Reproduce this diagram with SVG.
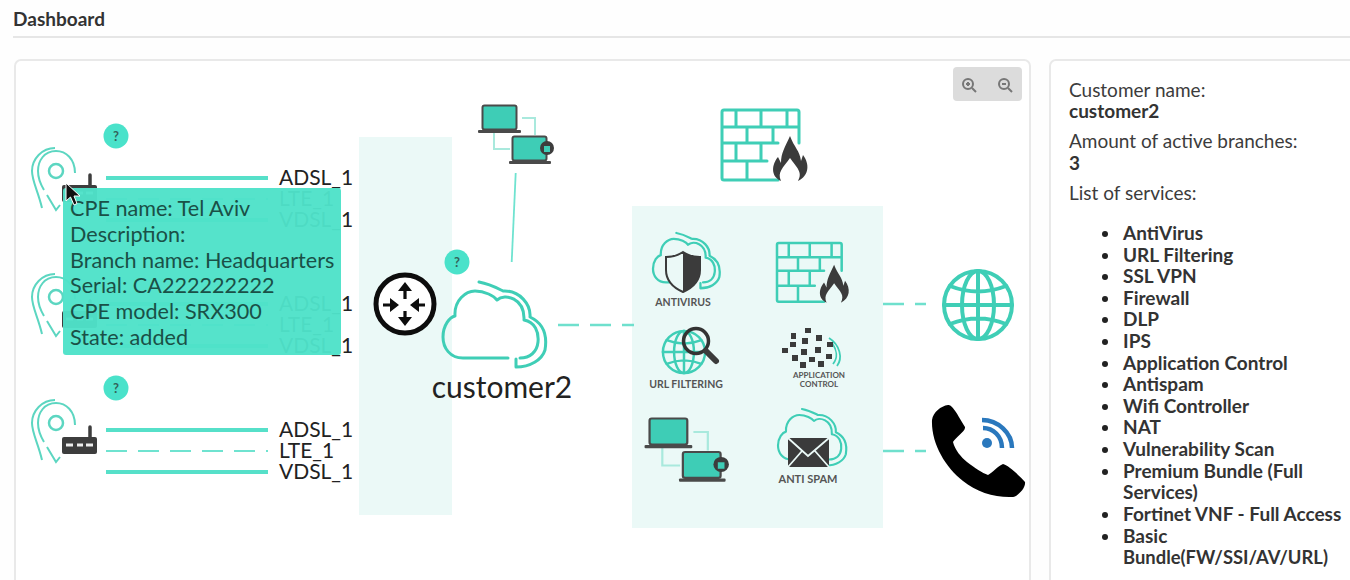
<svg xmlns="http://www.w3.org/2000/svg" xmlns:xlink="http://www.w3.org/1999/xlink" width="1350" height="580" viewBox="0 0 1350 580">
<style>
text{font-family:Lato,"Open Sans","Liberation Sans",sans-serif}
.panel{fill:#fff;stroke:#e9e9e9;stroke-width:2}
.zone{fill:#ebf9f7}
.solid{stroke:#56e0c9;stroke-width:3.8;fill:none}
.thin{stroke:#6fe3d0;stroke-width:1.800;fill:none}
.dash{stroke:#6fe0cd;stroke-width:2.4;fill:none;stroke-dasharray:21 11}
.lbl{font-size:21px;fill:#222}
.tip{font-size:21.600px;fill:#1a5047}
.info{font-size:19px;fill:#3c3c3c}
.infob{font-size:19px;fill:#333;font-weight:700}
.svc{font-size:19px;fill:#333;font-weight:700}
.cap{font-weight:700;fill:#555;text-anchor:middle}
.q{font-size:13px;font-weight:700;fill:#33635a;text-anchor:middle}
.badge{fill:#4ae2ca}
.tl{fill:none;stroke:#3fceb6;stroke-linejoin:round;stroke-linecap:round}
.dark{fill:#3b3b3b}
</style>
<defs>
<g id="cloud" class="tl">
<path d="M508,358H463C450,358 443,348 443,337C443,325 450,317 455,316C454,300 466,291 475,291C485,291 494,296 497,300C505,293 525,298 524,320C535,322 539,332 538,342C537,352 530,358 520,358"/>
<path d="M479,282C490,284 497,288 503,291C520,290 531,305 530,317C545,324 547,338 545,350C542,360 530,367 516,367V359"/>
</g>
<g id="firewall">
<path class="tl" stroke-width="3" d="M778,180H724Q722,180 722,178V112Q722,110 724,110H797Q799,110 799,112V143M722,127H799M722,143H778M722,161H767M736,110V127M761,110V127M787,110V127M747,127V143M773,127V143M736,143V161M761,143V161M747,161V180"/>
<path class="dark" d="M790,136C785,147 781,153 781,163L778,157C772,164 770,176 781,181C777,172 783,168 790,158C797,168 803,172 798,181C809,176 810,164 803,155L801,161C800,151 794,147 790,136Z"/>
</g>
<g id="globe" class="tl">
<circle r="34"/><ellipse rx="16" ry="34"/><path d="M0,-34V34M-34,0H34M-28,-19Q0,-8 28,-19M-28,19Q0,8 28,19"/>
</g>
<g id="laptops">
<path d="M522,118H535V135M494,132V149H510" fill="none" stroke="#a9e9dd" stroke-width="2"/>
<rect x="482.500" y="105.500" width="34" height="24" rx="2" fill="#3ecdb6" stroke="#4a4a4a" stroke-width="2"/>
<rect x="478" y="130" width="43" height="3" rx="1" fill="#4a4a4a"/>
<rect x="512.500" y="136.500" width="34" height="24" rx="2" fill="#3ecdb6" stroke="#4a4a4a" stroke-width="2"/>
<rect x="509" y="161" width="42" height="3" rx="1" fill="#4a4a4a"/>
<circle cx="547" cy="148" r="7" fill="#3d3d3d"/>
<rect x="544" y="146" width="6" height="6" fill="#3ecdb6"/>
</g>
<g id="pin">
<circle cx="56" cy="423" r="7" fill="none" stroke="#5cd6c1" stroke-width="2.500"/>
<path d="M75,425C75,411 66,403 56,403C44,403 38,413 38,423C38,430 41,437 44,442M47,447L56,462L60,457M55,400C42,400 32,411 32,423C32,433 38,443 42,460" fill="none" stroke="#5cd6c1" stroke-width="2"/>
</g>
<g id="cpe">
<rect x="62" y="437" width="35" height="17" rx="2" fill="#3d3d3d"/>
<path d="M90,427V438" stroke="#3d3d3d" stroke-width="3.500" stroke-linecap="round"/>
<path d="M66,445H73M77,445H83M86,445H93" stroke="#eee" stroke-width="3"/>
</g>
</defs>

<rect width="1350" height="580" fill="#fefefe"/>
<g id="header">
<text x="13" y="26" font-size="19" font-weight="700" fill="#333" textLength="92">Dashboard</text>
<path d="M13,37H1350" stroke="#dedede" stroke-width="1.500"/>
</g>
<rect id="canvas-panel" class="panel" x="15" y="60" width="1015" height="540" rx="6"/>
<rect id="info-panel" class="panel" x="1050" y="60" width="320" height="540" rx="6"/>
<rect id="zone-wan" class="zone" x="359" y="137" width="93" height="378"/>
<rect id="zone-services" class="zone" x="632" y="206" width="251" height="322"/>

<g id="connectors">
<path class="solid" d="M106,178H268M106,304H268M106,346H268M106,430H268M106,472H268M106,220H268"/>
<path class="thin" stroke-dasharray="21 11" d="M106,199H268M106,325H268M106,451H268"/>
<path class="thin" stroke-width="2.200" d="M515.700,173L511.700,262"/>
<path class="dash" d="M558,325H634"/>
<path class="dash" d="M883,304H926"/>
<path class="dash" d="M883,451H926"/>
</g>

<g id="branch-1">
<use xlink:href="#pin" href="#pin" transform="translate(0,-252)"/>
<use xlink:href="#cpe" href="#cpe" transform="translate(0,-252)"/>
<circle class="badge" cx="116" cy="136" r="12.500"/><text class="q" x="116" y="141">?</text>
<text class="lbl" x="279" y="185">ADSL_1</text><text class="lbl" x="279" y="206">LTE_1</text><text class="lbl" x="279" y="227">VDSL_1</text>
</g>
<g id="branch-2">
<use xlink:href="#pin" href="#pin" transform="translate(0,-126)"/>
<use xlink:href="#cpe" href="#cpe" transform="translate(0,-126)"/>
<text class="lbl" x="279" y="311">ADSL_1</text><text class="lbl" x="279" y="332">LTE_1</text><text class="lbl" x="279" y="353">VDSL_1</text>
</g>
<g id="branch-3">
<use xlink:href="#pin" href="#pin"/>
<use xlink:href="#cpe" href="#cpe"/>
<circle class="badge" cx="116" cy="388" r="12.500"/><text class="q" x="116" y="393">?</text>
<text class="lbl" x="279" y="437">ADSL_1</text><text class="lbl" x="279" y="458">LTE_1</text><text class="lbl" x="279" y="479">VDSL_1</text>
</g>

<g id="router">
<circle cx="405" cy="304" r="29" fill="#fff" stroke="#0d0d0d" stroke-width="5"/>
<path d="M405,299V290M383,305H392M425,305H416M405,311V319" stroke="#0d0d0d" stroke-width="3.200"/>
<path d="M405,282L398,291H412ZM405,326L398,317H412ZM399,305L390,298V312ZM410,305L419,298V312Z" fill="#0d0d0d"/>
</g>
<g id="customer">
<circle class="badge" cx="457" cy="262" r="12.500"/><text class="q" x="457" y="267">?</text>
<use xlink:href="#cloud" href="#cloud" stroke-width="3"/>
<text x="502" y="398" font-size="30" fill="#222" text-anchor="middle">customer2</text>
</g>
<g id="vpn-top"><use xlink:href="#laptops" href="#laptops"/></g>
<g id="firewall-top"><use xlink:href="#firewall" href="#firewall"/></g>

<g id="svc-antivirus">
<use xlink:href="#cloud" href="#cloud" transform="translate(653,233) scale(.65) translate(-443,-282)" stroke-width="3.500"/>
<path d="M683,252C677,256 671,257 666,257V270C666,281 674,288 683,292C692,288 700,281 700,270V257C695,257 689,256 683,252Z" fill="#ebf9f7" stroke="#3b3b3b" stroke-width="2"/>
<path class="dark" d="M683,252C689,256 695,257 700,257V270C700,281 692,288 683,292Z"/>
<text class="cap" x="683" y="306" font-size="10.500">ANTIVIRUS</text>
</g>
<g id="svc-firewall"><use xlink:href="#firewall" href="#firewall" transform="translate(777,243) scale(.84) translate(-722,-110)"/></g>
<g id="svc-url">
<use xlink:href="#globe" href="#globe" transform="translate(684,352) scale(.62)" stroke-width="4"/>
<circle cx="696" cy="341" r="12.500" fill="none" stroke="#333" stroke-width="3.500"/>
<path d="M706,351L716,361" stroke="#3b3b3b" stroke-width="6" stroke-linecap="round"/>
<text class="cap" x="686" y="388" font-size="10.500">URL FILTERING</text>
</g>
<g id="svc-appcontrol">
<path d="M829,338C840,345 843,358 837,366M832,343C837,350 838,358 833,364" fill="none" stroke="#3fceb6" stroke-width="1.800"/>
<path class="dark" d="M791,333h5v6h-5zM805,328h6v5h-6zM816,335h6v6h-6zM827,342h6v5h-6zM790,342h6v5h-6zM802,338h6v6h-6zM782,348h6v5h-6zM801,349h6v6h-6zM815,347h6v6h-6zM792,355h6v6h-6zM826,354h6v5h-6zM800,362h6v6h-6zM809,357h6v5h-6zM818,361h6v6h-6z"/>
<text class="cap" x="819" y="378" font-size="8">APPLICATION</text>
<text class="cap" x="819" y="387" font-size="8">CONTROL</text>
</g>
<g id="svc-vpn"><use xlink:href="#laptops" href="#laptops" transform="translate(649,418) scale(1.11,1.08) translate(-482,-105)"/></g>
<g id="svc-antispam">
<use xlink:href="#cloud" href="#cloud" transform="translate(778,409) scale(.665) translate(-443,-282)" stroke-width="3.200"/>
<rect class="dark" x="788" y="438" width="41" height="29" />
<path d="M788,438L808,456L829,438M788,467L802,451M829,467L815,451" fill="none" stroke="#ebf9f7" stroke-width="1.800"/>
<text class="cap" x="808" y="483" font-size="11">ANTI SPAM</text>
</g>

<g id="internet"><use xlink:href="#globe" href="#globe" transform="translate(978,305)" stroke-width="4"/></g>
<g id="voice">
<path fill="#000" d="M932,420C933,412 941,406 948,405C952,405 955,410 965,427C966,431 955,438 953,442C955,450 961,457 967,462C975,468 982,473 988,475C992,473 998,466 1003,464C1008,465 1020,476 1025,482C1026,488 1018,496 1013,497C996,498 976,492 963,481C945,467 931,443 932,420Z"/>
<circle cx="987" cy="443" r="5" fill="#2a78bd"/>
<path d="M983,428C993,428 1002,436 1002,448M982,420C998,420 1012,433 1012,448" fill="none" stroke="#2a78bd" stroke-width="4.500"/>
</g>

<g id="zoom-controls">
<rect x="953" y="67" width="69" height="34" rx="4" fill="#dcdcdc"/>
<g fill="none" stroke="#777" stroke-width="2">
<circle cx="968" cy="84" r="5"/><path d="M972,88L976,92M966,84H970M968,82V86"/>
<circle cx="1004" cy="84" r="5"/><path d="M1008,88L1012,92M1002,84H1006"/>
</g>
</g>

<g id="tooltip">
<rect x="63" y="188" width="278" height="167" rx="3" fill="#4fe2c9" fill-opacity=".965"/>
<text class="tip" x="70" y="216">CPE name: Tel Aviv</text>
<text class="tip" x="70" y="242">Description:</text>
<text class="tip" x="70" y="268">Branch name: Headquarters</text>
<text class="tip" x="70" y="293">Serial: CA222222222</text>
<text class="tip" x="70" y="319">CPE model: SRX300</text>
<text class="tip" x="70" y="345">State: added</text>
</g>
<path id="cursor" d="M66,183V201L70.500,197L74,205L77,203.500L74,196H80Z" fill="#111" stroke="#fff" stroke-width="1"/>

<g id="info">
<text class="info" x="1069" y="97">Customer name:</text>
<text class="infob" x="1069" y="118">customer2</text>
<text class="info" x="1069" y="148">Amount of active branches:</text>
<text class="infob" x="1069" y="170">3</text>
<text class="info" x="1069" y="200">List of services:</text>
<g fill="#222">
<circle cx="1105" cy="234" r="3"/><circle cx="1105" cy="256" r="3"/><circle cx="1105" cy="277" r="3"/><circle cx="1105" cy="299" r="3"/><circle cx="1105" cy="320" r="3"/><circle cx="1105" cy="342" r="3"/><circle cx="1105" cy="364" r="3"/><circle cx="1105" cy="385" r="3"/><circle cx="1105" cy="407" r="3"/><circle cx="1105" cy="428" r="3"/><circle cx="1105" cy="450" r="3"/><circle cx="1105" cy="472" r="3"/><circle cx="1105" cy="515" r="3"/><circle cx="1105" cy="537" r="3"/>
</g>
<text class="svc" x="1123" y="240">AntiVirus</text>
<text class="svc" x="1123" y="262">URL Filtering</text>
<text class="svc" x="1123" y="283">SSL VPN</text>
<text class="svc" x="1123" y="305">Firewall</text>
<text class="svc" x="1123" y="326">DLP</text>
<text class="svc" x="1123" y="348">IPS</text>
<text class="svc" x="1123" y="370">Application Control</text>
<text class="svc" x="1123" y="391">Antispam</text>
<text class="svc" x="1123" y="413">Wifi Controller</text>
<text class="svc" x="1123" y="434">NAT</text>
<text class="svc" x="1123" y="456">Vulnerability Scan</text>
<text class="svc" x="1123" y="478">Premium Bundle (Full</text>
<text class="svc" x="1123" y="499">Services)</text>
<text class="svc" x="1123" y="521">Fortinet VNF - Full Access</text>
<text class="svc" x="1123" y="543">Basic</text>
<text class="svc" x="1123" y="564" font-size="18.400" style="font-size:18.400px">Bundle(FW/SSI/AV/URL)</text>
</g>
</svg>
